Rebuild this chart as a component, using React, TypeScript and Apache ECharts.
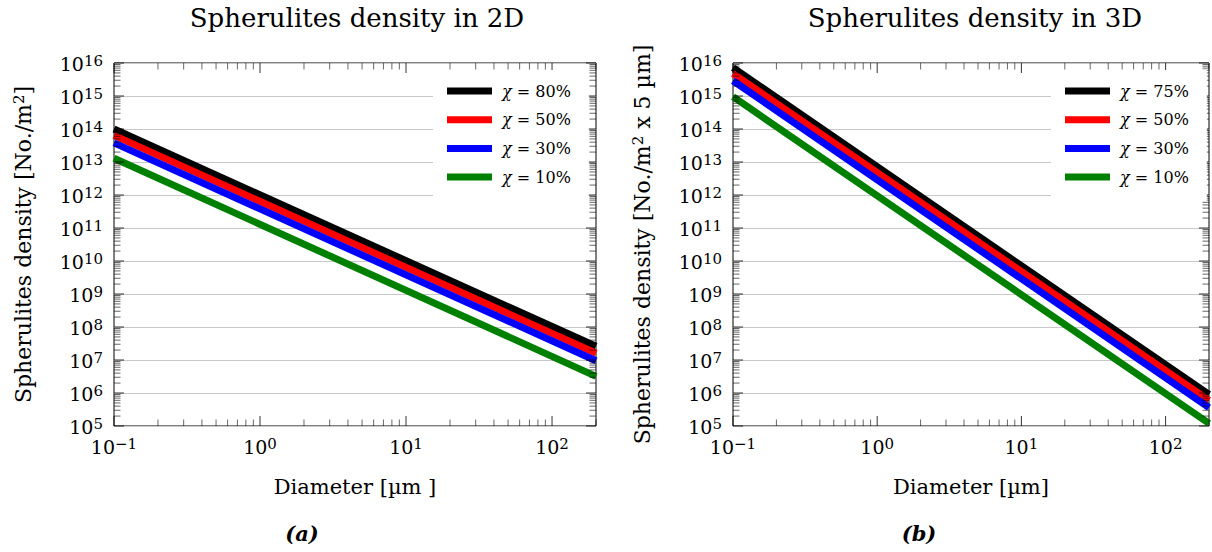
import React, { useEffect, useRef } from 'react';
import * as echarts from 'echarts';

const FONT = 'DejaVu Serif';

// Axis ranges
const X_RANGE = [0.1, 200];
const Y_RANGE = [1e5, 1e16];

// Diameter [µm] at which values were read (line ends)
const DIAMETERS = [0.1, 200];

// 2D chart (a)
const NAMES_2D = ['χ = 80%', 'χ = 50%', 'χ = 30%', 'χ = 10%'];
const DENSITY_2D_80 = [1.0e14, 2.6e7];
const DENSITY_2D_50 = [6.4e13, 1.6e7];
const DENSITY_2D_30 = [3.8e13, 9.5e6];
const DENSITY_2D_10 = [1.3e13, 3.2e6];

// 3D chart (b)
const NAMES_3D = ['χ = 75%', 'χ = 50%', 'χ = 30%', 'χ = 10%'];
const DENSITY_3D_75 = [7.2e15, 9.0e5];
const DENSITY_3D_50 = [4.8e15, 6.0e5];
const DENSITY_3D_30 = [2.9e15, 3.6e5];
const DENSITY_3D_10 = [9.5e14, 1.2e5];

const COLORS = ['#000000', '#ff0000', '#0000ff', '#008000'];

// Tick positions
const X_MAJOR_TICKS = [0.1, 1, 10, 100];
const X_MINOR_TICKS: number[] = [];
[0.1, 1, 10].forEach((d) => { for (let k = 2; k <= 9; k++) X_MINOR_TICKS.push(k * d); });
X_MINOR_TICKS.push(200);
const Y_MAJOR_TICKS: number[] = [];
const Y_MINOR_TICKS: number[] = [];
for (let n = 5; n <= 16; n++) Y_MAJOR_TICKS.push(Math.pow(10, n));
for (let n = 5; n <= 15; n++) for (let k = 2; k <= 9; k++) Y_MINOR_TICKS.push(k * Math.pow(10, n));

const powLabel = (v: number) => {
  const l = Math.log10(v);
  const e = Math.round(l);
  if (Math.abs(l - e) > 1e-6) return '';
  return `{b|10}{s|${e < 0 ? '−' + -e : e}}`;
};

const labelRich = {
  b: { fontFamily: FONT, fontSize: 19, color: '#000', lineHeight: 20, verticalAlign: 'bottom', padding: [5, 0, 0, 0] },
  s: { fontFamily: FONT, fontSize: 15, color: '#000', lineHeight: 16, verticalAlign: 'top' },
};

const nameRich = {
  a: { fontFamily: FONT, fontSize: 22, color: '#000', lineHeight: 23, verticalAlign: 'bottom', padding: [5, 0, 0, 0] },
  s: { fontFamily: FONT, fontSize: 15, color: '#000', lineHeight: 16, verticalAlign: 'top' },
};

const legendRich = {
  i: { fontFamily: FONT, fontStyle: 'italic', fontSize: 16, color: '#000', padding: [0, 0, 0, 5] },
  t: { fontFamily: FONT, fontSize: 16, color: '#000' },
};

function makeTicks(idx: number) {
  return {
    type: 'custom',
    xAxisIndex: idx,
    yAxisIndex: idx,
    silent: true,
    clip: false,
    z: 3,
    data: [[X_RANGE[0], Y_RANGE[0]]],
    renderItem: (_params: any, api: any) => {
      const children: any[] = [];
      const [xl, yb] = api.coord([X_RANGE[0], Y_RANGE[0]]);
      const [xr, yt] = api.coord([X_RANGE[1], Y_RANGE[1]]);
      const add = (x1: number, y1: number, x2: number, y2: number, w: number) =>
        children.push({ type: 'line', shape: { x1, y1, x2, y2 }, style: { stroke: '#000', lineWidth: w } });
      X_MAJOR_TICKS.forEach((v) => {
        const [x] = api.coord([v, Y_RANGE[0]]);
        add(x, yb, x, yb - 10, 0.8);
        add(x, yt, x, yt + 10, 0.8);
      });
      X_MINOR_TICKS.forEach((v) => {
        const [x] = api.coord([v, Y_RANGE[0]]);
        add(x, yb, x, yb - 6.5, 0.6);
        add(x, yt, x, yt + 6.5, 0.6);
      });
      Y_MAJOR_TICKS.forEach((v) => {
        const [, y] = api.coord([X_RANGE[0], v]);
        add(xl, y, xl + 10, y, 0.8);
        add(xr, y, xr - 10, y, 0.8);
      });
      Y_MINOR_TICKS.forEach((v) => {
        const [, y] = api.coord([X_RANGE[0], v]);
        add(xl, y, xl + 6.5, y, 0.6);
        add(xr, y, xr - 6.5, y, 0.6);
      });
      return { type: 'group', children };
    },
  };
}

function makeLines(idx: number, names: string[], values: number[][]) {
  return names.map((name, i) => ({
    type: 'line',
    name,
    xAxisIndex: idx,
    yAxisIndex: idx,
    showSymbol: false,
    symbol: 'none',
    color: COLORS[i],
    lineStyle: { width: 7, color: COLORS[i] },
    data: DIAMETERS.map((d, j) => [d, values[i][j]]),
    z: 2,
  }));
}

function xAxis(idx: number, name: string) {
  return {
    type: 'log',
    logBase: 10,
    gridIndex: idx,
    min: X_RANGE[0],
    max: X_RANGE[1],
    interval: 1,
    axisLine: { show: false },
    axisTick: { show: false },
    splitLine: { show: false },
    axisLabel: { formatter: powLabel, rich: labelRich, margin: 10 },
    name,
    nameLocation: 'middle',
    nameGap: 50,
    nameTextStyle: { fontFamily: FONT, fontSize: 21, color: '#000' },
  };
}

function yAxis(idx: number, name: string) {
  return {
    type: 'log',
    logBase: 10,
    gridIndex: idx,
    min: Y_RANGE[0],
    max: Y_RANGE[1],
    interval: 1,
    splitNumber: 11,
    axisLine: { show: false },
    axisTick: { show: false },
    splitLine: { show: true, lineStyle: { color: '#c8c8c8', width: 1 } },
    axisLabel: { formatter: powLabel, rich: labelRich, margin: 11 },
    name,
    nameLocation: 'middle',
    nameGap: 80,
    nameTextStyle: { rich: nameRich },
  };
}

function legend(left: number, names: string[]) {
  return {
    orient: 'vertical',
    left,
    top: 70,
    data: names,
    icon: 'rect',
    itemWidth: 45,
    itemHeight: 7,
    itemGap: 12.7,
    backgroundColor: '#ffffff',
    padding: [13, 18, 16, 14],
    selectedMode: false,
    textStyle: { fontFamily: FONT, fontSize: 16, color: '#000', rich: legendRich },
    formatter: (n: string) => `{i|χ}{t|${n.replace('χ', '')}}`,
  };
}

export default function App() {
  const ref = useRef<HTMLDivElement>(null);
  useEffect(() => {
    const chart = echarts.init(ref.current!, undefined, { renderer: 'svg' });
    chart.setOption({
      animation: false,
      backgroundColor: '#ffffff',
      grid: [
        { left: 114, top: 63, width: 482, height: 363, show: true, borderColor: '#000', borderWidth: 1, backgroundColor: 'transparent' },
        { left: 733, top: 63, width: 478, height: 363, show: true, borderColor: '#000', borderWidth: 1, backgroundColor: 'transparent' },
      ],
      xAxis: [xAxis(0, 'Diameter [µm ]'), xAxis(1, 'Diameter [µm]')],
      yAxis: [
        yAxis(0, '{a|Spherulites density [No./m}{s|2}{a|]}'),
        yAxis(1, '{a|Spherulites density [No./m}{s|2}{a| x 5 µm]}'),
      ],
      legend: [legend(433, NAMES_2D), legend(1051, NAMES_3D)],
      series: [
        makeTicks(0),
        makeTicks(1),
        ...makeLines(0, NAMES_2D, [DENSITY_2D_80, DENSITY_2D_50, DENSITY_2D_30, DENSITY_2D_10]),
        ...makeLines(1, NAMES_3D, [DENSITY_3D_75, DENSITY_3D_50, DENSITY_3D_30, DENSITY_3D_10]),
      ],
      graphic: [
        { type: 'text', x: 357, y: 18, style: { text: 'Spherulites density in 2D', fontFamily: FONT, fontSize: 26, fill: '#000', align: 'center', verticalAlign: 'middle' } },
        { type: 'text', x: 975, y: 18, style: { text: 'Spherulites density in 3D', fontFamily: FONT, fontSize: 26, fill: '#000', align: 'center', verticalAlign: 'middle' } },
        { type: 'text', x: 302, y: 533, style: { text: '(a)', fontFamily: FONT, fontSize: 21, fontWeight: 'bold', fontStyle: 'italic', fill: '#000', align: 'center', verticalAlign: 'middle' } },
        { type: 'text', x: 919, y: 533, style: { text: '(b)', fontFamily: FONT, fontSize: 21, fontWeight: 'bold', fontStyle: 'italic', fill: '#000', align: 'center', verticalAlign: 'middle' } },
      ],
    });
    return () => chart.dispose();
  }, []);
  return <div ref={ref} style={{ position: 'absolute', left: 0, top: 0, width: 1212, height: 552 }} />;
}
